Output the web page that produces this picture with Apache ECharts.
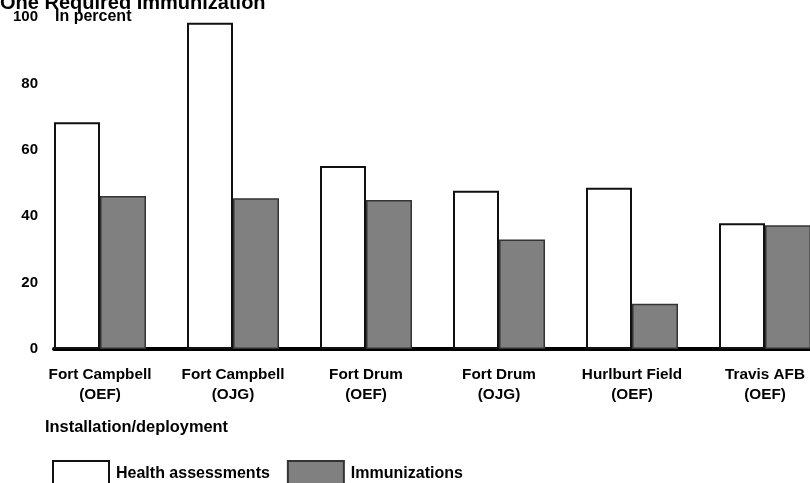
<!DOCTYPE html>
<html>
<head>
<meta charset="utf-8">
<script src="https://cdn.jsdelivr.net/npm/echarts@6/dist/echarts.min.js"></script>
<style>html,body{margin:0;padding:0;background:#fff}#c{width:810px;height:483px}</style>
</head>
<body>
<div id="c"></div>
<script>
const categories = ['Fort Campbell\n(OEF)', 'Fort Campbell\n(OJG)', 'Fort Drum\n(OEF)', 'Fort Drum\n(OJG)', 'Hurlburt Field\n(OEF)', 'Travis AFB\n(OEF)'];
const healthAssessments = [68.3, 98.3, 55.1, 47.7, 48.6, 37.9];
const immunizations = [46.1, 45.4, 44.9, 33.0, 13.6, 37.3];
const yTicks = [0, 20, 40, 60, 80, 100];

const FONT = '"Liberation Sans", Arial, Helvetica, sans-serif';
const chart = echarts.init(document.getElementById('c'), null, {renderer: 'canvas'});
chart.setOption({
  backgroundColor: '#fff',
  animation: false,
  title: [
    {text: 'One Required Immunization', left: 0, top: -7, padding: 0, textStyle: {fontFamily: FONT, fontWeight: 'bold', fontSize: 20, color: '#000'}},
    {text: 'In percent', left: 55, top: 9, padding: 0, textStyle: {fontFamily: FONT, fontWeight: 'bold', fontSize: 16, color: '#000'}},
    {text: 'Installation/deployment', left: 45, top: 419, padding: 0, textStyle: {fontFamily: FONT, fontWeight: 'bold', fontSize: 16.4, color: '#000'}}
  ],
  legend: {
    data: ['Health assessments', 'Immunizations'],
    icon: 'rect',
    left: 52, top: 460, padding: 0,
    itemWidth: 56, itemHeight: 26, itemGap: 17,
    textStyle: {fontFamily: FONT, fontWeight: 'bold', fontSize: 16, color: '#000', padding: [0, 0, 0, 2]}
  },
  grid: {left: 54, top: 17, right: -42, bottom: 134, containLabel: false, outerBoundsMode: 'none'},
  xAxis: {
    type: 'category',
    data: categories,
    axisLine: {lineStyle: {color: '#000', width: 4}},
    axisTick: {show: false},
    axisLabel: {
      interval: 0, margin: 16,
      fontFamily: FONT, fontWeight: 'bold', fontSize: 15.3, color: '#000', lineHeight: 20,
      padding: [0, 41, 0, 0]
    }
  },
  yAxis: {
    type: 'value', min: yTicks[0], max: yTicks[yTicks.length - 1], interval: 20,
    axisLine: {show: false}, axisTick: {show: false}, splitLine: {show: false},
    axisLabel: {margin: 16, fontFamily: FONT, fontWeight: 'bold', fontSize: 15, color: '#000'}
  },
  series: [
    {name: 'Health assessments', type: 'bar', data: healthAssessments, barWidth: 46, barGap: '0%', barCategoryGap: '0%',
     itemStyle: {color: '#fff', borderColor: '#111', borderWidth: 2}},
    {name: 'Immunizations', type: 'bar', data: immunizations, barWidth: 46, barGap: '0%',
     itemStyle: {color: '#808080', borderColor: '#333', borderWidth: 1.5}},
    {name: 'spacer', type: 'bar', data: [], barWidth: 41, barGap: '0%', silent: true}
  ]
});
</script>
</body>
</html>
